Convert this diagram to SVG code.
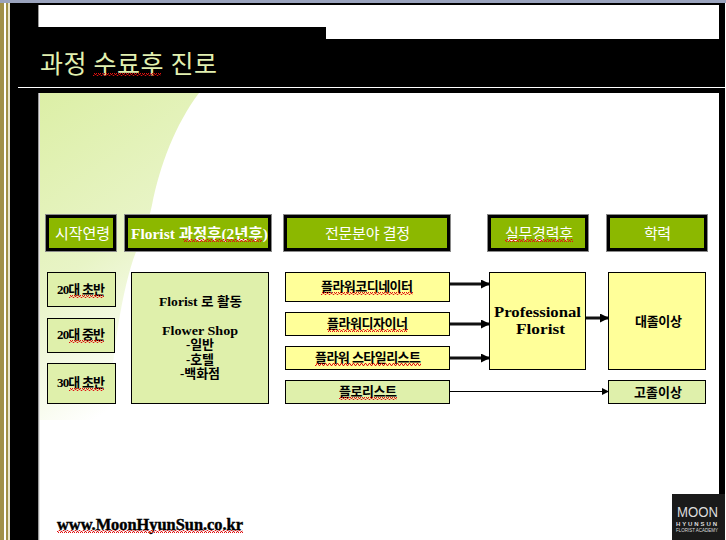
<svg xmlns="http://www.w3.org/2000/svg" width="726" height="540" viewBox="0 0 726 540">
<style>
.kr{font-family:"Noto Sans CJK KR","Liberation Serif",sans-serif}
.t{font-family:"Liberation Serif","Noto Sans CJK KR",serif;font-weight:700;fill:#000}
.b{font-size:13px}
.h{font-family:"Liberation Serif","Noto Sans CJK KR",serif;font-size:15px;fill:#fff}
.hd{fill:#8cb800;stroke:#000;stroke-width:3}
.hs{fill:#8a8a8a}
.g{fill:#dff0ab;stroke:#000;stroke-width:1}
.y{fill:#ffff99;stroke:#000;stroke-width:1}
.sq{fill:url(#wave)}
.ar{stroke:#111;stroke-width:3;fill:none;marker-end:url(#a)}
.ar2{stroke:#000;stroke-width:1;fill:none;marker-end:url(#a2)}
.lg{font-family:"Liberation Sans",sans-serif;fill:#ddd}
</style>
<defs>
<linearGradient id="bg" x1="0" y1="0" x2="0.35" y2="1"><stop offset="0" stop-color="#dcefa6"/><stop offset="0.55" stop-color="#e8f4c6"/><stop offset="1" stop-color="#ffffff"/></linearGradient>
<pattern id="wave" patternUnits="userSpaceOnUse" width="4" height="3"><path d="M0 2.500L1 .5L2 .5L3 2.500L4 2.500" fill="none" stroke="#e01010" stroke-width="1"/></pattern>
<marker id="a" markerUnits="userSpaceOnUse" markerWidth="9" markerHeight="9" refX="8" refY="4.500" orient="auto"><path d="M0 0L9 4.500L0 9z" fill="#000"/></marker>
<marker id="a2" markerUnits="userSpaceOnUse" markerWidth="7" markerHeight="7" refX="6" refY="3.500" orient="auto"><path d="M0 0L7 3.500L0 7z" fill="#000"/></marker>
</defs>
<rect width="726" height="540" fill="#000"/>
<rect width="726" height="3" fill="#9aa3bd"/>
<rect y="3" width="4" height="537" fill="#a09048"/>
<rect x="4" y="3" width="2" height="537" fill="#fff"/>
<rect x="6" y="3" width="2" height="537" fill="#a09048"/>
<rect x="8" y="3" width="2" height="537" fill="#e8e4c8"/>
<rect x="38" y="5" width="681" height="535" fill="#fff"/>
<rect x="38" y="5" width="1" height="535" fill="#999"/>
<rect x="38" y="27" width="288" height="12" fill="#000"/>
<rect x="38" y="39" width="688" height="54" fill="#000"/>
<rect x="18" y="87" width="708" height="1" fill="#fff"/>
<path d="M39 93H199C175 125 160 165 152 205C148 225 140 240 133 260C120 300 112 360 108 420H39Z" fill="url(#bg)"/>
<rect x="39" y="93" width="1" height="447" fill="#e4e4e4"/>
<text x="40" y="73" class="kr" font-size="25" fill="#e2f0b0" textLength="177">과정 수료후 진로</text>
<rect class="sq" x="93" y="73" width="68" height="3"/>
<g id="connectors">
<path class="ar" d="M450 284H489"/>
<path class="ar" d="M450 324H489"/>
<path class="ar" d="M450 358H489"/>
<path class="ar" d="M586 318H608"/>
<path class="ar2" d="M450 391.500H608"/>
</g>
<g id="h1"><rect class="hs" x="45" y="214" width="72" height="38"/><rect class="hd" x="47.500" y="216.500" width="67" height="33"/><text class="h" x="55" y="239" textLength="55">시작연령</text></g>
<g id="h2"><rect class="hs" x="124" y="214" width="148" height="38"/><rect class="hd" x="126.500" y="216.500" width="143" height="33"/><text class="h" x="131" y="239" font-weight="700" textLength="137" lengthAdjust="spacingAndGlyphs">Florist 과정후(2년후)</text><rect class="sq" x="183" y="239" width="79" height="3"/></g>
<g id="h3"><rect class="hs" x="283" y="214" width="168" height="38"/><rect class="hd" x="285.500" y="216.500" width="163" height="33"/><text class="h" x="325" y="239" textLength="85">전문분야 결정</text></g>
<g id="h4"><rect class="hs" x="487" y="214" width="102" height="38"/><rect class="hd" x="489.500" y="216.500" width="97" height="33"/><text class="h" x="505" y="239" textLength="68">실무경력후</text><rect class="sq" x="505" y="239" width="68" height="3"/></g>
<g id="h5"><rect class="hs" x="606" y="214" width="102" height="38"/><rect class="hd" x="608.500" y="216.500" width="97" height="33"/><text class="h" x="644" y="239" textLength="27">학력</text></g>
<g id="a1"><rect class="g" x="47.500" y="272.500" width="68" height="34"/><text class="t b" x="57" y="294" textLength="48">20대 초반</text><rect class="sq" x="69" y="295" width="35" height="3"/></g>
<g id="a2n"><rect class="g" x="47.500" y="318.500" width="67" height="34"/><text class="t b" x="57" y="339" textLength="48">20대 중반</text><rect class="sq" x="69" y="340" width="35" height="3"/></g>
<g id="a3"><rect class="g" x="47.500" y="363.500" width="68" height="40"/><text class="t b" x="57" y="387" textLength="48">30대 초반</text><rect class="sq" x="69" y="388" width="35" height="3"/></g>
<g id="activity"><rect class="g" x="131.500" y="272.500" width="137" height="131"/>
<text class="t b" x="159" y="306" textLength="83" lengthAdjust="spacingAndGlyphs">Florist 로 활동</text>
<text class="t b" x="162" y="335" textLength="76" lengthAdjust="spacingAndGlyphs">Flower Shop</text>
<text class="t b" x="186" y="349" textLength="28">-일반</text>
<text class="t b" x="186" y="364" textLength="28">-호텔</text>
<text class="t b" x="180" y="378" textLength="40">-백화점</text></g>
<g id="f1"><rect class="y" x="285.500" y="272.500" width="164" height="29"/><text class="t b" x="321" y="291" textLength="92">플라워코디네이터</text><rect class="sq" x="321" y="292" width="92" height="3"/></g>
<g id="f2"><rect class="y" x="285.500" y="312.500" width="164" height="23"/><text class="t b" x="327" y="328" textLength="81">플라워디자이너</text><rect class="sq" x="327" y="329" width="81" height="3"/></g>
<g id="f3"><rect class="y" x="285.500" y="346.500" width="164" height="23"/><text class="t b" x="315" y="362" textLength="106">플라워 스타일리스트</text><rect class="sq" x="315" y="363" width="106" height="3"/></g>
<g id="f4"><rect class="g" x="285.500" y="380.500" width="164" height="23"/><text class="t b" x="339" y="396" textLength="58">플로리스트</text><rect class="sq" x="339" y="397" width="58" height="3"/></g>
<g id="pro"><rect class="y" x="489.500" y="272.500" width="96" height="97"/><text class="t" font-size="15" x="494" y="317" textLength="87" lengthAdjust="spacingAndGlyphs">Professional</text><text class="t" font-size="15" x="516" y="334" textLength="49" lengthAdjust="spacingAndGlyphs">Florist</text></g>
<g id="e1"><rect class="y" x="608.500" y="272.500" width="97" height="97"/><text class="t b" x="635" y="326" textLength="47">대졸이상</text></g>
<g id="e2"><rect class="g" x="608.500" y="380.500" width="97" height="23"/><text class="t b" x="634" y="397" textLength="48">고졸이상</text></g>
<text class="t" font-size="16" x="57" y="530" textLength="186" lengthAdjust="spacingAndGlyphs" stroke="#000" stroke-width=".4">www.MoonHyunSun.co.kr</text>
<rect class="sq" x="57" y="530" width="186" height="3"/>
<g id="logo"><rect x="672" y="494" width="54" height="46" fill="#1a1a1a"/>
<text x="677" y="517" class="lg" font-size="14" textLength="41" lengthAdjust="spacingAndGlyphs">MOON</text>
<text x="676" y="526" class="lg" font-size="6" font-weight="700" textLength="41">HYUNSUN</text>
<text x="676" y="532" class="lg" font-size="5" textLength="42" lengthAdjust="spacingAndGlyphs">FLORIST ACADEMY</text></g>
<rect x="725" y="3" width="1" height="537" fill="#fff"/>
</svg>
